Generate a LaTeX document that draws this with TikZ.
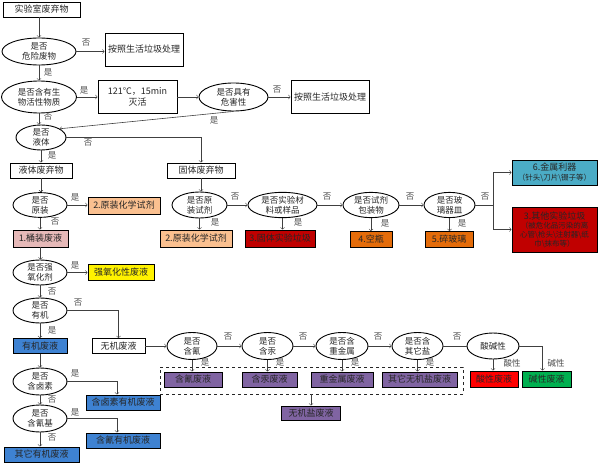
\documentclass[tikz,border=0pt]{standalone}
\usepackage{fontspec}
\setmainfont{Noto Sans CJK SC}
\usetikzlibrary{shapes.geometric}
\definecolor{lightorange}{HTML}{FAC090}
\definecolor{pinkbox}{HTML}{E6B9B8}
\definecolor{darkred}{HTML}{C00000}
\definecolor{orangebox}{HTML}{E46C0A}
\definecolor{tealbox}{HTML}{4BACC6}
\definecolor{bluebox}{HTML}{3E82D2}
\definecolor{purplebox}{HTML}{8064A2}
\definecolor{greenbox}{HTML}{00B050}
\begin{document}
\begin{tikzpicture}[x=1pt,y=-1pt,
  box/.style={draw, rectangle, line width=0.9pt, inner sep=0pt, align=center, text=black!85, font=\fontsize{9}{10.5}\selectfont},
  dec/.style={draw, ellipse, line width=0.9pt, inner sep=0pt, align=center, text=black!85, font=\fontsize{8.5}{10}\selectfont},
  lbl/.style={inner sep=0pt, text=black!70, font=\fontsize{8.5}{10}\selectfont},
  flow/.style={draw=black!75, line width=0.6pt}]
\useasboundingbox (0,0) rectangle (599,465);

\node[box, minimum width=77pt, minimum height=15pt] (start) at (41.5,9.5) {实验室废弃物};
\node[dec, minimum width=74pt, minimum height=27pt] (d1) at (39,51.5) {是否\\危险废物};
\node[box, minimum width=78pt, minimum height=33pt] (r1) at (144,49.5) {按照生活垃圾处理};
\node[dec, minimum width=75pt, minimum height=32pt] (d2) at (39,97) {是否含有生\\物活性物质};
\node[box, minimum width=79pt, minimum height=33pt] (kill) at (137.5,97) {121℃，15min\\灭活};
\node[dec, minimum width=69pt, minimum height=28pt] (d3) at (233.5,97) {是否具有\\危害性};
\node[box, minimum width=78pt, minimum height=33pt] (r2) at (330,97) {按照生活垃圾处理};
\node[dec, minimum width=50pt, minimum height=25pt] (d4) at (41,137.5) {是否\\液体};
\node[box, minimum width=62pt, minimum height=15pt] (liq) at (41,170.5) {液体废弃物};
\node[box, minimum width=68pt, minimum height=15pt] (sol) at (201,170.5) {固体废弃物};

\node[dec, minimum width=54pt, minimum height=24pt] (d5) at (40,205) {是否\\原装};
\node[box, fill=lightorange, minimum width=72pt, minimum height=17pt] (b2a) at (124,205.5) {2.原装化学试剂};
\node[box, fill=pinkbox, minimum width=55pt, minimum height=17pt] (b1) at (40.5,238.5) {1.桶装废液};
\node[dec, minimum width=55pt, minimum height=26pt] (d6) at (199.5,205) {是否原\\装试剂};
\node[box, fill=lightorange, minimum width=72pt, minimum height=17pt] (b2b) at (196,238.5) {2.原装化学试剂};
\node[dec, minimum width=69pt, minimum height=24pt] (d7) at (282.5,205) {是否实验材\\料或样品};
\node[box, fill=darkred, minimum width=70pt, minimum height=17pt] (b3) at (280,238.5) {3.固体实验垃圾};
\node[dec, minimum width=56pt, minimum height=25pt] (d8) at (371,205) {是否试剂\\包装物};
\node[box, fill=orangebox, minimum width=42pt, minimum height=16pt] (b4) at (371,239.5) {4.空瓶};
\node[dec, minimum width=51pt, minimum height=25pt] (d9) at (449.5,205) {是否玻\\璃器皿};
\node[box, fill=orangebox, minimum width=48pt, minimum height=16pt] (b5) at (449,239.5) {5.碎玻璃};
\coordinate (br) at (493,205);
\node[box, fill=tealbox, minimum width=85pt, minimum height=25pt, font=\fontsize{7.5}{10}\selectfont] (b6) at (554.5,172.5) {{\fontsize{9}{10}\selectfont 6.金属利器}\\（针头\textbackslash 刀片\textbackslash 镊子等）};
\node[box, fill=darkred, minimum width=85pt, minimum height=45pt, font=\fontsize{7.5}{9}\selectfont] (b3b) at (554.5,229.5) {{\fontsize{9}{10}\selectfont 3.其他实验垃圾}\\（被危化品污染的离\\心管\textbackslash 枪头\textbackslash 注射器\textbackslash 纸\\巾\textbackslash 抹布等）};

\node[dec, minimum width=54pt, minimum height=25pt] (d10) at (40,272.5) {是否强\\氧化剂};
\node[box, fill=yellow, minimum width=66pt, minimum height=16pt] (ox) at (121,272.5) {强氧化性废液};
\node[dec, minimum width=54pt, minimum height=25pt] (d11) at (40,310.5) {是否\\有机};
\node[box, fill=bluebox, minimum width=54pt, minimum height=15pt] (org) at (40,346) {有机废液};
\node[box, minimum width=53pt, minimum height=15pt] (inorg) at (118.5,346) {无机废液};
\node[dec, minimum width=54pt, minimum height=27pt] (d12) at (40,381.5) {是否\\含卤素};
\node[box, fill=bluebox, minimum width=74pt, minimum height=15pt] (hal) at (123,402.5) {含卤素有机废液};
\node[dec, minimum width=54pt, minimum height=27pt] (d13) at (40,418.5) {是否\\含氰基};
\node[box, fill=bluebox, minimum width=74pt, minimum height=15pt] (cyo) at (123,440.5) {含氰有机废液};
\node[box, fill=bluebox, minimum width=75pt, minimum height=15pt] (oth) at (41.5,454.5) {其它有机废液};

\node[dec, minimum width=50pt, minimum height=27pt] (d14) at (192,346) {是否\\含氰};
\node[dec, minimum width=51pt, minimum height=27pt] (d15) at (267.5,346) {是否\\含汞};
\node[dec, minimum width=52pt, minimum height=27pt] (d16) at (342,346) {是否含\\重金属};
\node[dec, minimum width=51pt, minimum height=27pt] (d17) at (417.5,346) {是否含\\其它盐};
\node[dec, minimum width=52pt, minimum height=26pt] (d18) at (493,346) {酸碱性};
\node[box, fill=purplebox, minimum width=58pt, minimum height=15pt] (p1) at (193,379.5) {含氰废液};
\node[box, fill=purplebox, minimum width=55pt, minimum height=15pt] (p2) at (269.5,379.5) {含汞废液};
\node[box, fill=purplebox, minimum width=62pt, minimum height=15pt] (p3) at (342,379.5) {重金属废液};
\node[box, fill=purplebox, minimum width=75pt, minimum height=15pt] (p4) at (419.5,379.5) {其它无机盐废液};
\node[box, fill=red, minimum width=48pt, minimum height=16pt] (acid) at (494,379) {酸性废液};
\node[box, fill=greenbox, minimum width=49pt, minimum height=16pt] (base) at (546.5,379) {碱性废液};
\node[draw=black!85, dashed, line width=0.8pt, minimum width=303pt, minimum height=27pt] (grp) at (311.5,380.5) {};
\node[box, fill=purplebox, minimum width=59pt, minimum height=14pt] (salt) at (311,413) {无机盐废液};

\node[lbl] (l1) at (86,43) {否};
\node[lbl] (l2) at (48,72) {是};
\node[lbl] (l3) at (84,90) {是};
\node[lbl] (l4) at (277,90) {否};
\node[lbl] (l5) at (214,120) {是};
\node[lbl] (l6) at (48,117) {否};
\node[lbl] (l7) at (88,143) {否};
\node[lbl] (l8) at (52,155) {是};
\node[lbl] (l9) at (75,197) {是};
\node[lbl] (l10) at (55,222) {否};
\node[lbl] (l11) at (235,197) {否};
\node[lbl] (l12) at (215,222) {是};
\node[lbl] (l13) at (298,222) {是};
\node[lbl] (l14) at (327,197) {否};
\node[lbl] (l15) at (385,223) {是};
\node[lbl] (l16) at (410,197) {否};
\node[lbl] (l17) at (462,223) {是};
\node[lbl] (l18) at (485,197) {否};
\node[lbl] (l19) at (75,265) {是};
\node[lbl] (l20) at (52,292) {否};
\node[lbl] (l21) at (78,303) {否};
\node[lbl] (l22) at (52,330) {是};
\node[lbl] (l23) at (75,373) {是};
\node[lbl] (l24) at (52,400) {否};
\node[lbl] (l25) at (75,412) {是};
\node[lbl] (l26) at (52,438) {否};
\node[lbl] (l27) at (228,337) {否};
\node[lbl] (l28) at (303,337) {否};
\node[lbl] (l29) at (378,337) {否};
\node[lbl] (l30) at (457,337) {否};
\node[lbl] (l31) at (205,362) {是};
\node[lbl] (l32) at (280,362) {是};
\node[lbl] (l33) at (355,362) {是};
\node[lbl] (l34) at (430,362) {是};
\node[lbl] (l35) at (512,363) {酸性};
\node[lbl] (l36) at (556,363) {碱性};

\draw[flow,->] (d1.north |- start.south) -- (d1.north);
\draw[flow,->] (d1.east) -- (d1.east -| r1.west);
\draw[flow,->] (d1.south) -- (d1.south |- d2.north);
\draw[flow,->] (d2.east) -- (kill.west);
\draw[flow,->] (kill.east) -- (d3.west);
\draw[flow,->] (d3.east) -- (r2.west);
\draw[flow,->] (d3.south) -- (d4.25);
\draw[flow,->] (d2.south) -- (d2.south |- d4.north);
\draw[flow,->] (d4.east) -| (sol.north);
\draw[flow,->] (d4.south) -- (d4.south |- liq.north);
\draw[flow,->] (liq.south) -- (liq.south |- d5.north);
\draw[flow,->] (d5.east) -- (d5.east -| b2a.west);
\draw[flow,->] (d5.south) -- (d5.south |- b1.north);
\draw[flow,->] (sol.south) -- (sol.south |- d6.north);
\draw[flow,->] (d6.east) -- (d7.west);
\draw[flow,->] (d6.south) -- (d6.south |- b2b.north);
\draw[flow,->] (d7.east) -- (d8.west);
\draw[flow,->] (d7.south) -- (d7.south |- b3.north);
\draw[flow,->] (d8.east) -- (d9.west);
\draw[flow,->] (d8.south) -- (b4.north);
\draw[flow] (d9.east) -- (br);
\draw[flow,->] (d9.south) -- (d9.south |- b5.north);
\draw[flow,->] (br) |- (b6.west);
\draw[flow,->] (br) |- (b3b.west);
\draw[flow,->] (b1.south) -- (b1.south |- d10.north);
\draw[flow,->] (d10.east) -- (ox.west);
\draw[flow,->] (d10.south) -- (d11.north);
\draw[flow,->] (d11.east) -| (inorg.north);
\draw[flow,->] (d11.south) -- (org.north);
\draw[flow,->] (org.south) -- (d12.north);
\draw[flow,->] (d12.east) -| ([xshift=-6pt]hal.north);
\draw[flow,->] (d12.south) -- (d13.north);
\draw[flow,->] (d13.east) -| ([xshift=-6pt]cyo.north);
\draw[flow,->] (d13.south) -- (d13.south |- oth.north);
\draw[flow,->] (inorg.east) -- (d14.west);
\draw[flow,->] (d14.east) -- (d15.west);
\draw[flow,->] (d15.east) -- (d16.west);
\draw[flow,->] (d16.east) -- (d17.west);
\draw[flow] (d17.east) -- (d18.west);
\draw[flow,->] (d14.south) -- (d14.south |- p1.north);
\draw[flow,->] (d15.south) -- (d15.south |- p2.north);
\draw[flow,->] (d16.south) -- (p3.north);
\draw[flow,->] (d17.south) -- (d17.south |- p4.north);
\draw[flow,->] (d18.south) -- (d18.south |- acid.north);
\draw[flow,->] (d18.east) -| ([xshift=-4pt]base.north);
\draw[flow,->] (grp.south -| salt.north) -- (salt.north);
\end{tikzpicture}
\end{document}
